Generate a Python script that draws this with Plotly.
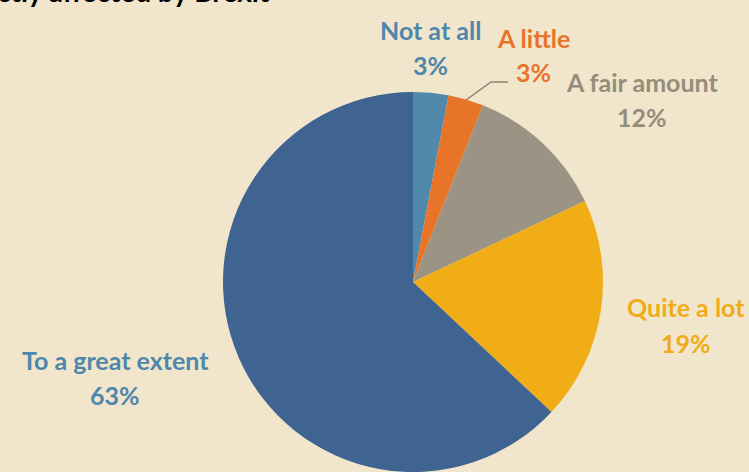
import plotly.graph_objects as go

categories = ["Not at all", "A little", "A fair amount", "Quite a lot", "To a great extent"]
values = [3, 3, 12, 19, 63]
pct_labels = ["3%", "3%", "12%", "19%", "63%"]
colors = ["#5189ad", "#e8742a", "#9b9383", "#f0ad16", "#3f6491"]
label_colors = ["#4f87ac", "#e8742a", "#958d7c", "#efac17", "#4f87ac"]

W, H = 749, 472
bg = "#f1e6cb"

cx, cy, r = 413, 283, 191

fig = go.Figure(go.Pie(
    labels=categories, values=values, sort=False, direction="clockwise",
    rotation=0, marker=dict(colors=colors, line=dict(width=0)),
    textinfo="none", hoverinfo="label+percent", showlegend=False,
    domain=dict(x=[(cx - r) / W, (cx + r) / W], y=[0, 1 - (cy - r) / H]),
))

# label positions (pixels from top-left)
label_pos = [(430, 30, 65), (533, 38, 72), (642, 82, 117), (686, 307, 343), (115, 360, 395)]
for cat, pct, col, (x, y1, y2) in zip(categories, pct_labels, label_colors, label_pos):
    for txt, yy in ((cat, y1), (pct, y2)):
        fig.add_annotation(x=x / W, y=1 - yy / H, xref="paper", yref="paper",
                           text=f"<b>{txt}</b>", showarrow=False,
                           font=dict(family="Lato", size=25, color=col),
                           xanchor="center", yanchor="middle")

# leader line for "A little"
fig.add_shape(type="path", xref="paper", yref="paper",
              path=f"M {466/W} {1-100/H} L {491/W} {1-82/H} L {508/W} {1-82/H}",
              line=dict(color="#8a8270", width=1.5))

# title, clipped by the top edge as in the reference
fig.add_annotation(x=272 / W, y=1 - 10 / H, xref="paper", yref="paper",
                   text="<b>directly affected by Brexit</b>", showarrow=False,
                   font=dict(family="Lato", size=28, color="#000000"),
                   xanchor="right", yanchor="bottom")

fig.update_layout(width=W, height=H, margin=dict(l=0, r=0, t=0, b=0),
                  paper_bgcolor=bg, plot_bgcolor=bg)
fig.write_html("out.html", config={"displayModeBar": False},
               post_script="document.body.style.margin='0';document.body.style.overflow='hidden';")
